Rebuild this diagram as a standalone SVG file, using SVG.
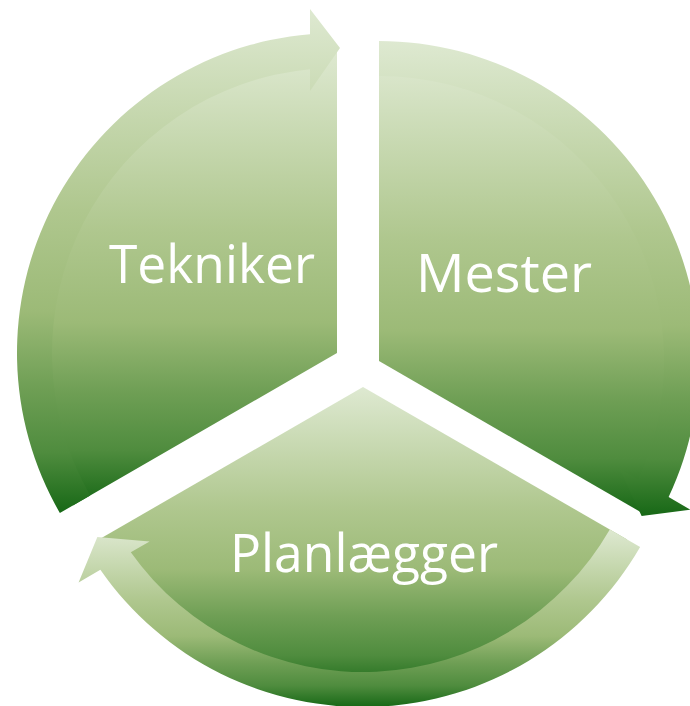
<svg xmlns="http://www.w3.org/2000/svg" width="690" height="706" viewBox="0 0 690 706">
  <defs>
    <linearGradient id="g" x1="0" y1="0" x2="0" y2="1">
      <stop offset="0" stop-color="#dee9d1"/>
      <stop offset="0.4" stop-color="#afc78e"/>
      <stop offset="0.6" stop-color="#9cba77"/>
      <stop offset="0.75" stop-color="#6f9f55"/>
      <stop offset="0.88" stop-color="#4f8c3e"/>
      <stop offset="1" stop-color="#176816"/>
    </linearGradient>
  </defs>
  <style>
    .seg { fill: url(#g); }
    .arr { fill: url(#g); }
    .lbl { font-family: "Open Sans", "Liberation Sans", sans-serif; font-size: 53px; fill: #ffffff; text-anchor: middle; }
  </style>
  <rect width="690" height="706" fill="#ffffff"/>
  <g id="tekniker">
    <path class="seg" d="M337 353 L72.86 505.5 A305 305 0 0 1 337 48 Z"/>
    <path class="arr" d="M59.87 513 A320 320 0 0 1 310 34.14 L310 9 L340 48 L310 91 L310 69.28 A285 285 0 0 0 90.18 495.5 Z"/>
    <text class="lbl" x="212" y="283" textLength="206" lengthAdjust="spacingAndGlyphs">Tekniker</text>
  </g>
  <g id="mester">
    <path class="seg" d="M379 361 L379 56 A305 305 0 0 1 643.14 513.5 Z"/>
    <path class="arr" d="M379 41 A320 320 0 0 1 668.64 497.05 L690.41 509.62 L641.64 516.1 L619.4 468.62 L638.21 479.48 A285 285 0 0 0 379 76 Z"/>
    <text class="lbl" x="504" y="292" textLength="176" lengthAdjust="spacingAndGlyphs">Mester</text>
  </g>
  <g id="planlaegger">
    <path class="seg" d="M363 387 L627.14 539.5 A305 305 0 0 1 98.86 539.5 Z"/>
    <path class="arr" d="M640.13 547 A320 320 0 0 1 100.36 569.81 L78.59 582.38 L97.36 536.9 L149.6 541.38 L130.79 552.24 A285 285 0 0 0 609.82 529.5 Z"/>
    <text class="lbl" x="364" y="572" textLength="268" lengthAdjust="spacingAndGlyphs">Planlægger</text>
  </g>
  <g id="connectors"></g>
</svg>
